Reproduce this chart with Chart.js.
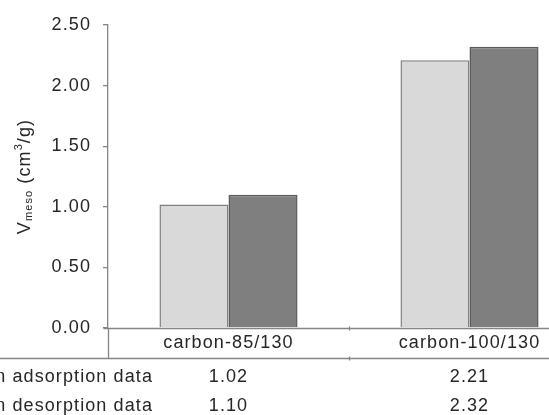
<!DOCTYPE html>
<html lang="en">
<head>
  <meta charset="UTF-8" />
  <title>Mesopore volume</title>
  <script src="https://cdn.jsdelivr.net/npm/chart.js"></script>
  <style>
    html, body { margin: 0; padding: 0; background: #fff; overflow: hidden; }
    #wrap { width: 600px; height: 415px; }
  </style>
</head>
<body>
  <div id="wrap"><canvas id="vmesoChart" width="600" height="415"></canvas></div>

  <script>
    // samples and mesopore volumes (cm3/g)
    const categories = ['carbon-85/130', 'carbon-100/130'];
    const seriesNames = ['based on adsorption data', 'based on desorption data'];
    const adsorption = [1.02, 2.21];
    const desorption = [1.10, 2.32];
    const yTicks = [0, 0.5, 1, 1.5, 2, 2.5];

    const FONT = '18px "Liberation Sans", Arial, sans-serif';
    const TEXT = '#262626';
    const LINE = '#858585';
    const SPACING = '1.1px';

    // data table under the plot + rotated axis title with sub/superscript
    const tablePlugin = {
      id: 'dataTable',
      beforeDraw(chart) {
        chart.ctx.letterSpacing = SPACING;
      },
      afterDraw(chart) {
        const { ctx, scales: { x, y }, width } = chart;
        const y0 = Math.round(y.getPixelForValue(0)) + 0.5;
        const rowH = 30;
        const yBot = y0 + rowH;
        const axisX = Math.round(chart.chartArea.left) + 0.5;

        ctx.save();
        ctx.strokeStyle = LINE;
        ctx.lineWidth = 1.3;
        ctx.beginPath();
        // zero line with its outer tick
        ctx.moveTo(axisX - 5, y0); ctx.lineTo(width, y0);
        // axis continues through the category row
        ctx.moveTo(axisX, y0); ctx.lineTo(axisX, yBot);
        // bottom rule of the category row
        ctx.moveTo(0, yBot); ctx.lineTo(width, yBot);
        // short marks between categories
        for (let i = 0; i < categories.length - 1; i++) {
          const xm = Math.round((x.getPixelForValue(i) + x.getPixelForValue(i + 1)) / 2) + 0.5;
          ctx.moveTo(xm, y0 - 2); ctx.lineTo(xm, y0 + 2);
          ctx.moveTo(xm, yBot - 2); ctx.lineTo(xm, yBot + 2);
        }
        ctx.stroke();

        ctx.font = FONT;
        ctx.letterSpacing = SPACING;
        ctx.fillStyle = TEXT;
        ctx.textBaseline = 'middle';

        ctx.textAlign = 'center';
        categories.forEach((c, i) => {
          ctx.fillText(c, x.getPixelForValue(i), y0 + rowH / 2);
        });

        const rows = [adsorption, desorption];
        const rowY = [yBot + 19, yBot + 48];
        rows.forEach((vals, r) => {
          ctx.textAlign = 'right';
          ctx.fillText(seriesNames[r], 153, rowY[r]);
          ctx.textAlign = 'center';
          vals.forEach((v, i) => ctx.fillText(v.toFixed(2), x.getPixelForValue(i), rowY[r]));
        });

        // y axis title: V_meso (cm^3/g)
        const parts = [
          { t: 'V', size: 18, dy: 0 },
          { t: 'meso', size: 11, dy: 4 },
          { t: ' (cm', size: 18, dy: 0 },
          { t: '3', size: 11, dy: -6 },
          { t: '/g)', size: 18, dy: 0 }
        ];
        let total = 0;
        parts.forEach(p => {
          ctx.font = p.size + 'px "Liberation Sans", Arial, sans-serif';
          p.w = ctx.measureText(p.t).width;
          total += p.w;
        });
        const midY = (chart.chartArea.top + chart.chartArea.bottom) / 2;
        ctx.translate(25, midY);
        ctx.rotate(-Math.PI / 2);
        ctx.textAlign = 'left';
        ctx.textBaseline = 'middle';
        let px = -total / 2;
        parts.forEach(p => {
          ctx.font = p.size + 'px "Liberation Sans", Arial, sans-serif';
          ctx.fillText(p.t, px, p.dy);
          px += p.w;
        });
        ctx.restore();
      }
    };

    new Chart(document.getElementById('vmesoChart'), {
      type: 'bar',
      data: {
        labels: categories,
        datasets: [
          {
            label: seriesNames[0],
            data: adsorption,
            backgroundColor: '#d9d9d9',
            borderColor: '#808080',
            borderWidth: 1.5
          },
          {
            label: seriesNames[1],
            data: desorption,
            backgroundColor: '#7f7f7f',
            borderColor: '#5a5a5a',
            borderWidth: 1.5
          }
        ]
      },
      options: {
        responsive: false,
        animation: false,
        devicePixelRatio: 1,
        layout: { padding: { left: 0, right: 10, top: 25, bottom: 87 } },
        datasets: { bar: { categoryPercentage: 0.573, barPercentage: 1.0 } },
        plugins: {
          legend: { display: false },
          tooltip: { enabled: false }
        },
        scales: {
          x: { display: false },
          y: {
            min: 0,
            max: 2.5,
            afterBuildTicks: axis => { axis.ticks = yTicks.map(v => ({ value: v })); },
            afterFit: axis => { axis.width = 108; },
            border: { display: true, color: LINE, width: 1.3 },
            grid: { drawOnChartArea: false, drawTicks: true, tickLength: 5, tickColor: LINE, lineWidth: 1.3 },
            ticks: {
              padding: 12,
              color: TEXT,
              font: { family: '"Liberation Sans", Arial, sans-serif', size: 18 },
              callback: v => Number(v).toFixed(2)
            }
          }
        }
      },
      plugins: [tablePlugin]
    });
  </script>
</body>
</html>
